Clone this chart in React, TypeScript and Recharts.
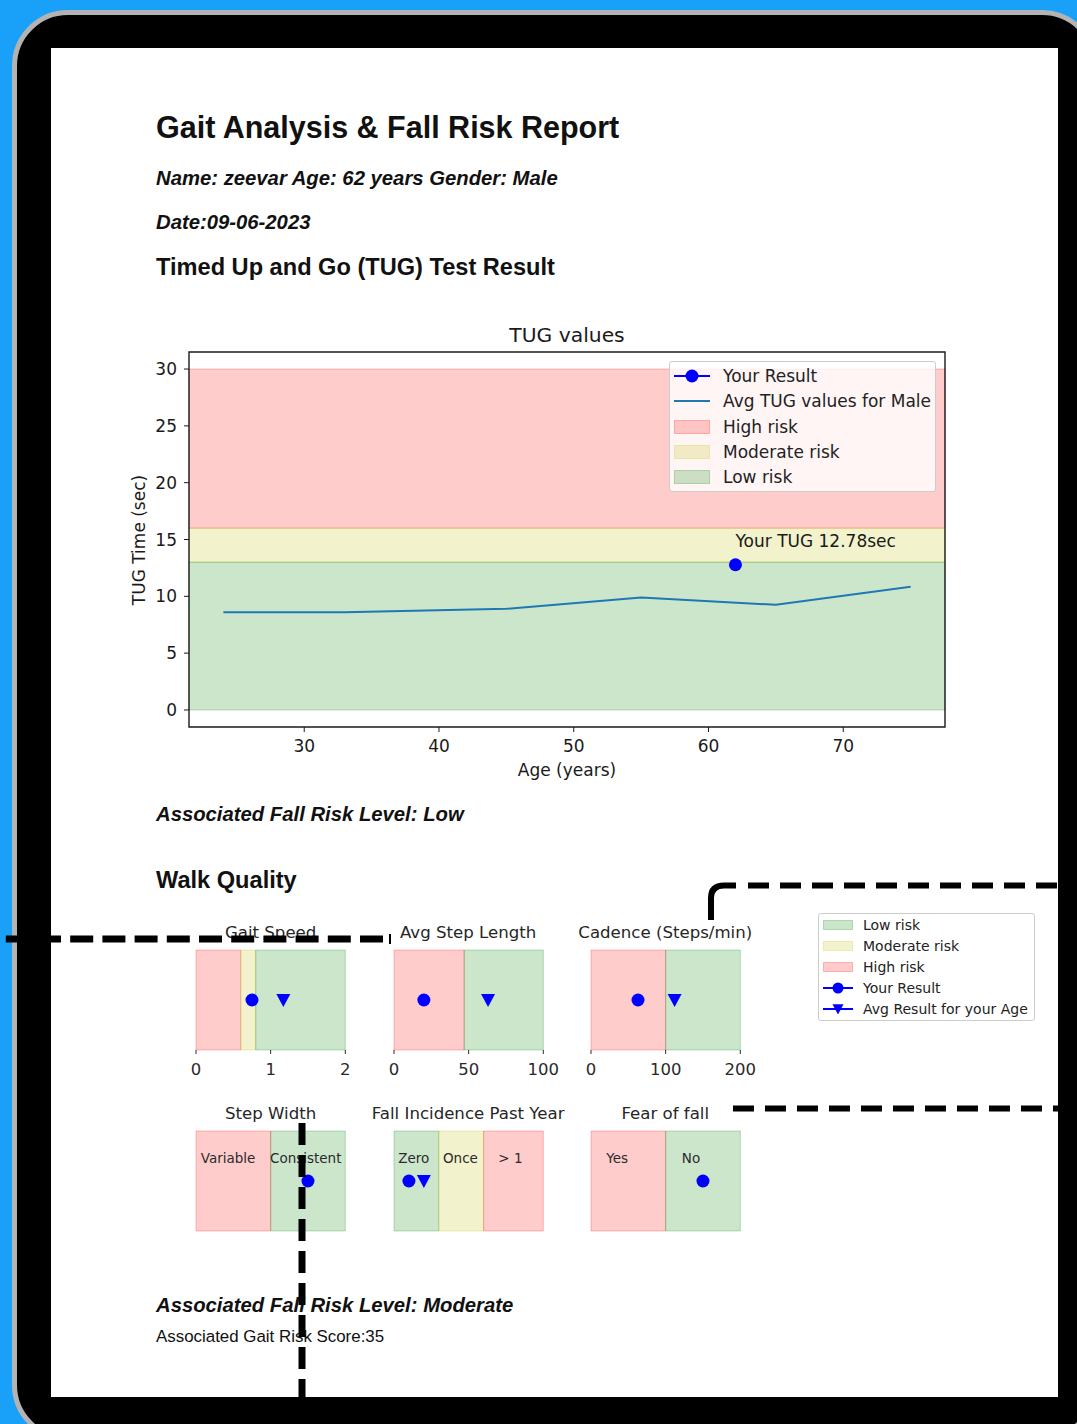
import React from 'react';
import {
  ComposedChart, Line, Scatter,
  XAxis, YAxis, ReferenceArea, Legend,
} from 'recharts';

const MPL = '"DejaVu Sans", sans-serif';
const DOC = '"Liberation Sans", Arial, sans-serif';
const BLUE = '#0000ff';
const AVG_COLOR = '#1f77b4';

const RISK_COLOR: Record<string, string> = { high: '#ff0000', moderate: '#bfbf00', low: '#008000' };

// --- TUG chart data
const AGES = [24, 33, 45, 55, 65, 75];
const AVG_TUG = [8.6, 8.6, 8.9, 9.9, 9.25, 10.85];
const YOUR_AGE = [62];
const YOUR_TUG = [12.78];
const TUG_X_TICKS = [30, 40, 50, 60, 70];
const TUG_Y_TICKS = [0, 5, 10, 15, 20, 25, 30];
const TUG_ZONE_RISK = ['high', 'moderate', 'low'];
const TUG_ZONE_FROM = [16, 13, 0];
const TUG_ZONE_TO = [30, 16, 13];
const TUG_LEGEND_LABELS = ['Your Result', 'Avg TUG values for Male', 'High risk', 'Moderate risk', 'Low risk'];
const TUG_LEGEND_KINDS = ['dot', 'line', 'high', 'moderate', 'low'];

// --- walk quality panels
const WALK_TITLES = ['Gait Speed', 'Avg Step Length', 'Cadence (Steps/min)', 'Step Width', 'Fall Incidence Past Year', 'Fear of fall'];
const WALK_MAX = [2, 100, 200, 2, 10, 2];
const WALK_TICKS = [[0, 1, 2], [0, 50, 100], [0, 100, 200], [], [], []];
const WALK_BAND_EDGES = [[0, 0.6, 0.8, 2], [0, 47, 100], [0, 100, 200], [0, 1, 2], [0, 3, 6, 10], [0, 1, 2]];
const WALK_BAND_RISK = [
  ['high', 'moderate', 'low'], ['high', 'low'], ['high', 'low'],
  ['high', 'low'], ['low', 'moderate', 'high'], ['high', 'low'],
];
const WALK_YOURS = [0.75, 20, 63, 1.5, 1, 1.5];
const WALK_AVG = [1.17, 63, 112, null, 2, null];
const WALK_LABELS = [[], [], [], ['Variable', 'Consistent'], ['Zero', 'Once', '> 1'], ['Yes', 'No']];
const WALK_LABEL_X = [[], [], [], [0.43, 1.47], [1.33, 4.45, 7.8], [0.35, 1.34]];
const WALK_LEGEND_LABELS = ['Low risk', 'Moderate risk', 'High risk', 'Your Result', 'Avg Result for your Age'];
const WALK_LEGEND_KINDS = ['low', 'moderate', 'high', 'dot', 'tri'];

const COL_X = [196, 393.5, 590.6];
const ROW_Y = [950, 1131];
const BOX_W = 149.3;

function Txt({ x, y, size, bold = false, italic = false, font = DOC, color = '#111', center = false, children }: any) {
  return (
    <div style={{
      position: 'absolute', left: x, top: y, whiteSpace: 'nowrap',
      transform: center ? 'translate(-50%, -50%)' : 'translateY(-50%)',
      fontFamily: font, fontSize: size, lineHeight: 1, color,
      fontWeight: bold ? 'bold' : 'normal', fontStyle: italic ? 'italic' : 'normal',
    }}>{children}</div>
  );
}

function Handle({ kind, w, h, r, patchH }: any) {
  const cy = h / 2;
  if (kind === 'dot' || kind === 'tri') {
    return (
      <svg width={w} height={h}>
        <line x1={0} x2={w} y1={cy} y2={cy} stroke={BLUE} strokeWidth={2} />
        {kind === 'dot'
          ? <circle cx={w / 2} cy={cy} r={r} fill={BLUE} />
          : <polygon points={`${w / 2 - r},${cy - r * 0.85} ${w / 2 + r},${cy - r * 0.85} ${w / 2},${cy + r}`} fill={BLUE} />}
      </svg>
    );
  }
  if (kind === 'line') {
    return <svg width={w} height={h}><line x1={0} x2={w} y1={cy} y2={cy} stroke={AVG_COLOR} strokeWidth={2} /></svg>;
  }
  return (
    <svg width={w} height={h}>
      <rect x={0.5} y={cy - patchH / 2} width={w - 1} height={patchH}
        fill={RISK_COLOR[kind]} fillOpacity={0.2} stroke={RISK_COLOR[kind]} strokeOpacity={0.25} />
    </svg>
  );
}

function LegendBox({ labels, kinds, width, height, top0, gap, hx, hw, tx, size, r, patchH }: any) {
  return (
    <div style={{
      position: 'relative', width, height, boxSizing: 'border-box',
      border: '1px solid #cccccc', borderRadius: 3, background: 'rgba(255,255,255,0.8)',
      fontFamily: MPL, fontSize: size, color: '#222',
    }}>
      {labels.map((l: string, i: number) => (
        <div key={l} style={{ position: 'absolute', left: 0, top: top0 + i * gap - 11, height: 22, width: '100%' }}>
          <div style={{ position: 'absolute', left: hx - 1, top: 0 }}>
            <Handle kind={kinds[i]} w={hw} h={22} r={r} patchH={patchH} />
          </div>
          <div style={{ position: 'absolute', left: tx - 1, top: 11, transform: 'translateY(-50%)', lineHeight: 1, whiteSpace: 'nowrap' }}>{l}</div>
        </div>
      ))}
    </div>
  );
}

function TugChart() {
  const avgData = AGES.map((a, i) => ({ x: a, y: AVG_TUG[i] }));
  const yourData = YOUR_AGE.map((a, i) => ({ x: a, y: YOUR_TUG[i] }));
  const xPad = (Math.max(...AGES) - Math.min(...AGES)) * 0.05;
  const xLo = Math.min(...AGES) - xPad;
  const xHi = Math.max(...AGES) + xPad;
  const yPad = (Math.max(...TUG_ZONE_TO) - Math.min(...TUG_ZONE_FROM)) * 0.05;
  const yLo = Math.min(...TUG_ZONE_FROM) - yPad;
  const yHi = Math.max(...TUG_ZONE_TO) + yPad;
  const tick = { fill: '#1a1a1a', fontSize: 17, fontFamily: MPL };

  return (
    <ComposedChart width={840} height={480} margin={{ top: 32, right: 15, bottom: 0, left: 0 }}>
      <XAxis type="number" dataKey="x" domain={[xLo, xHi]} ticks={TUG_X_TICKS} allowDataOverflow
        height={73} axisLine={false} tickSize={5} tickMargin={8} tick={tick} tickLine={{ stroke: '#1a1a1a' }} interval={0} />
      <YAxis type="number" dataKey="y" domain={[yLo, yHi]} ticks={TUG_Y_TICKS} allowDataOverflow
        width={69} axisLine={false} tickSize={5} tickMargin={7} tick={tick} tickLine={{ stroke: '#1a1a1a' }} interval={0} />
      {TUG_ZONE_RISK.map((r, i) => (
        <ReferenceArea key={r} y1={TUG_ZONE_FROM[i]} y2={TUG_ZONE_TO[i]}
          fill={RISK_COLOR[r]} fillOpacity={0.2} stroke={RISK_COLOR[r]} strokeOpacity={0.25} />
      ))}
      <ReferenceArea x1={xLo} x2={xHi} y1={yLo} y2={yHi} fill="none" stroke="#1a1a1a" strokeWidth={1.4} />
      <Line data={avgData} dataKey="y" type="linear" stroke={AVG_COLOR} strokeWidth={2} dot={false} isAnimationActive={false} />
      <Scatter data={yourData} dataKey="y" isAnimationActive={false}
        shape={(p: any) => (
          <g>
            <circle cx={p.cx} cy={p.cy} r={6.5} fill={BLUE} />
            <text x={p.cx} y={p.cy - 17.5} fontFamily={MPL} fontSize={17} fill="#1a1a1a">{`Your TUG ${p.payload.y}sec`}</text>
          </g>
        )} />
      <Legend layout="vertical" align="center" verticalAlign="middle"
        wrapperStyle={{ left: 549, top: 41, width: 267, height: 131 }}
        content={() => (
          <LegendBox labels={TUG_LEGEND_LABELS} kinds={TUG_LEGEND_KINDS} width={267} height={131}
            top0={14} gap={25.3} hx={5} hw={36} tx={54} size={17} r={6.5} patchH={13} />
        )} />
    </ComposedChart>
  );
}

function WalkPanel({ i }: { i: number }) {
  const col = i % 3;
  const row = Math.floor(i / 3);
  const max = WALK_MAX[i];
  const ticks = WALK_TICKS[i];
  const hasTicks = ticks.length > 0;
  const edges = WALK_BAND_EDGES[i];
  const yours = [{ x: WALK_YOURS[i], y: 0.5 }];
  const avg = WALK_AVG[i] == null ? [] : [{ x: WALK_AVG[i], y: 0.5 }];
  const labels = WALK_LABELS[i].map((t, k) => ({ x: WALK_LABEL_X[i][k], y: 0.73, text: t }));

  return (
    <>
      <Txt x={COL_X[col] + BOX_W / 2} y={ROW_Y[row] - 17} size={16.6} font={MPL} color="#262626" center>
        {WALK_TITLES[i]}
      </Txt>
      <div style={{ position: 'absolute', left: COL_X[col] - 20, top: ROW_Y[row] - 10 }}>
        <ComposedChart width={BOX_W + 40} height={hasTicks ? 140 : 120}
          margin={{ top: 10, right: 20, left: 20, bottom: hasTicks ? 0 : 10 }}>
          <XAxis type="number" dataKey="x" domain={[0, max]} ticks={ticks} hide={!hasTicks} allowDataOverflow
            height={30} axisLine={false} tickSize={4} tickMargin={9} interval={0}
            tick={{ fill: '#2a2a2a', fontSize: 16.5, fontFamily: MPL }} tickLine={{ stroke: '#2a2a2a' }} />
          <YAxis type="number" dataKey="y" domain={[0, 1]} hide />
          {WALK_BAND_RISK[i].map((r, k) => (
            <ReferenceArea key={k} x1={edges[k]} x2={edges[k + 1]} y1={0} y2={1}
              fill={RISK_COLOR[r]} fillOpacity={0.2} stroke={RISK_COLOR[r]} strokeOpacity={0.25} />
          ))}
          <Scatter data={labels} dataKey="y" isAnimationActive={false}
            shape={(p: any) => (
              <text x={p.cx} y={p.cy} textAnchor="middle" dominantBaseline="central"
                fontFamily={MPL} fontSize={13.5} fill="#2a2a2a">{p.payload.text}</text>
            )} />
          <Scatter data={yours} dataKey="y" isAnimationActive={false}
            shape={(p: any) => <circle cx={p.cx} cy={p.cy} r={6.5} fill={BLUE} />} />
          <Scatter data={avg} dataKey="y" isAnimationActive={false}
            shape={(p: any) => (
              <polygon points={`${p.cx - 7},${p.cy - 6} ${p.cx + 7},${p.cy - 6} ${p.cx},${p.cy + 7}`} fill={BLUE} />
            )} />
        </ComposedChart>
      </div>
    </>
  );
}

export default function App() {
  return (
    <div style={{ position: 'absolute', left: 0, top: 0, width: 1077, height: 1424, overflow: 'hidden', background: '#19a0f9' }}>
      <div style={{
        position: 'absolute', left: 12, top: 10, width: 1086, height: 1431, boxSizing: 'border-box',
        border: '5px solid #b3b3b3', borderRadius: 56, background: '#000',
      }} />
      <div style={{ position: 'absolute', left: 51, top: 48, width: 1007, height: 1349, background: '#fff' }} />

      <Txt x={156} y={127} size={30.5} bold>Gait Analysis &amp; Fall Risk Report</Txt>
      <Txt x={156} y={178} size={20.3} bold italic>Name: zeevar Age: 62 years Gender: Male</Txt>
      <Txt x={156} y={222} size={20.3} bold italic>Date:09-06-2023</Txt>
      <Txt x={156} y={268} size={23.6} bold>Timed Up and Go (TUG) Test Result</Txt>

      <Txt x={567} y={335} size={20.3} font={MPL} color="#1a1a1a" center>TUG values</Txt>
      <div style={{
        position: 'absolute', left: 139, top: 540, transform: 'translate(-50%, -50%) rotate(-90deg)',
        fontFamily: MPL, fontSize: 17, lineHeight: 1, color: '#1a1a1a', whiteSpace: 'nowrap',
      }}>TUG Time (sec)</div>
      <Txt x={567} y={770} size={17} font={MPL} color="#1a1a1a" center>Age (years)</Txt>
      <div style={{ position: 'absolute', left: 120, top: 320 }}>
        <TugChart />
      </div>

      <Txt x={156} y={814} size={20.3} bold italic>Associated Fall Risk Level: Low</Txt>
      <Txt x={156} y={881} size={23.6} bold>Walk Quality</Txt>

      {WALK_TITLES.map((_, i) => <WalkPanel key={i} i={i} />)}

      <div style={{ position: 'absolute', left: 818, top: 913 }}>
        <LegendBox labels={WALK_LEGEND_LABELS} kinds={WALK_LEGEND_KINDS} width={217} height={108}
          top0={11} gap={21} hx={5} hw={30} tx={45} size={14} r={5.5} patchH={9} />
      </div>

      <Txt x={156} y={1305} size={20.3} bold italic>Associated Fall Risk Level: Moderate</Txt>
      <Txt x={156} y={1337} size={16.9}>Associated Gait Risk Score:35</Txt>

      <svg width={1077} height={1424} style={{ position: 'absolute', left: 0, top: 0, pointerEvents: 'none' }}>
        <g stroke="#000" fill="none">
          <path d="M 5.8 939 H 383" strokeWidth={7} strokeDasharray="23 9.2" />
          <path d="M 390 934 V 944" strokeWidth={2} />
          <path d="M 302 1123 V 1424" strokeWidth={7} strokeDasharray="22 10" />
          <path d="M 711 920 V 898 Q 711 885.5 724 885.5 H 736" strokeWidth={6} />
          <path d="M 748 885.5 H 1077" strokeWidth={6} strokeDasharray="21 11" />
          <path d="M 733 1108.5 H 1077" strokeWidth={6} strokeDasharray="21 11" />
        </g>
      </svg>
    </div>
  );
}
